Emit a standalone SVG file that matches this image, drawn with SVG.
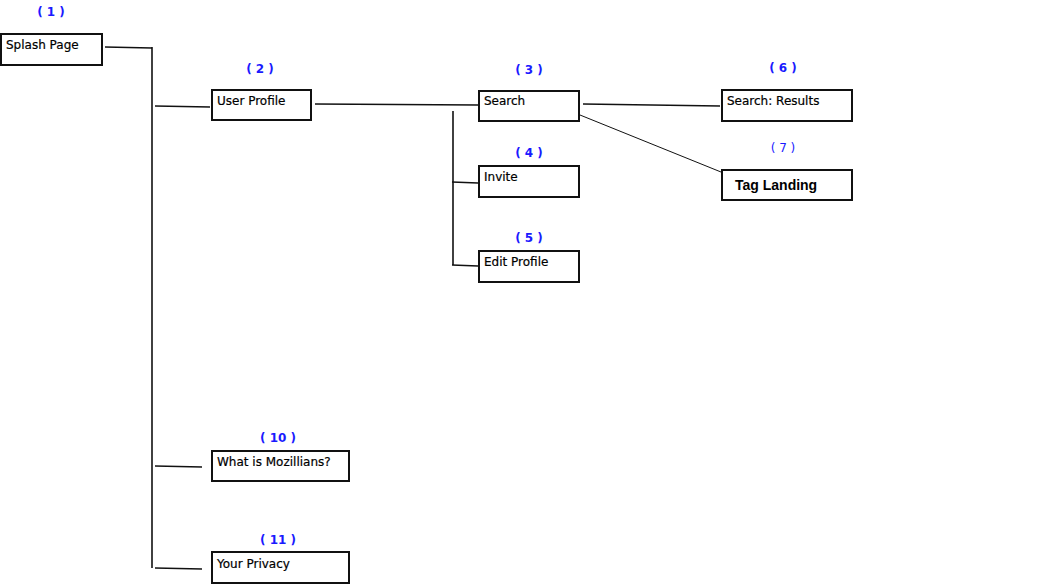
<svg xmlns="http://www.w3.org/2000/svg" width="1037" height="586" viewBox="0 0 1037 586">
<style>
.box{fill:#fff;stroke:#111;stroke-width:2}
.t{font-family:"DejaVu Sans","Liberation Sans",sans-serif;font-size:12px;fill:#000;stroke:#000;stroke-width:0.2}
.tb{font-family:"Liberation Sans","DejaVu Sans",sans-serif;font-size:14px;font-weight:bold;fill:#000}
.n{font-family:"DejaVu Sans","Liberation Sans",sans-serif;font-size:12px;font-weight:bold;fill:#1a1aff;text-anchor:middle}
.n2{font-family:"DejaVu Sans","Liberation Sans",sans-serif;font-size:12px;fill:#1a1aff;text-anchor:middle}
.c{stroke:#111;stroke-width:1.6;fill:none}
.c1{stroke:#111;stroke-width:1;fill:none}
</style>
<rect width="1037" height="586" fill="#fff"/>
<g id="connectors">
<path class="c" d="M105 47 L152 48"/>
<path class="c" d="M152 47 L152 568"/>
<path class="c" d="M155 106 L210 107"/>
<path class="c" d="M315 104 L478 105"/>
<path class="c" d="M453 111 L453 265"/>
<path class="c" d="M452 182 L478 183"/>
<path class="c" d="M452 265 L478 266"/>
<path class="c" d="M583 104 L720 106"/>
<path class="c1" d="M580 115 L721 172"/>
<path class="c" d="M155 466 L202 467"/>
<path class="c" d="M155 568 L202 569"/>
</g>
<g id="n1">
<text class="n" x="51" y="16">( 1 )</text>
<rect class="box" x="1" y="34" width="101" height="31"/>
<text class="t" x="6" y="49">Splash Page</text>
</g>
<g id="n2">
<text class="n" x="260" y="73">( 2 )</text>
<rect class="box" x="212" y="90" width="99" height="30"/>
<text class="t" x="217" y="105">User Profile</text>
</g>
<g id="n3">
<text class="n" x="529" y="74">( 3 )</text>
<rect class="box" x="479" y="91" width="100" height="30"/>
<text class="t" x="484" y="105">Search</text>
</g>
<g id="n4">
<text class="n" x="529" y="157">( 4 )</text>
<rect class="box" x="479" y="166" width="100" height="31"/>
<text class="t" x="484" y="181">Invite</text>
</g>
<g id="n5">
<text class="n" x="529" y="242">( 5 )</text>
<rect class="box" x="479" y="251" width="100" height="31"/>
<text class="t" x="484" y="266">Edit Profile</text>
</g>
<g id="n6">
<text class="n" x="783" y="72">( 6 )</text>
<rect class="box" x="722" y="90" width="130" height="31"/>
<text class="t" x="727" y="105">Search: Results</text>
</g>
<g id="n7">
<text class="n2" x="783" y="152">( 7 )</text>
<rect class="box" x="722" y="170" width="130" height="30"/>
<text class="tb" x="735" y="190">Tag Landing</text>
</g>
<g id="n10">
<text class="n" x="278" y="442">( 10 )</text>
<rect class="box" x="212" y="451" width="137" height="30"/>
<text class="t" x="217" y="466">What is Mozillians?</text>
</g>
<g id="n11">
<text class="n" x="278" y="544">( 11 )</text>
<rect class="box" x="212" y="552" width="137" height="31"/>
<text class="t" x="217" y="568">Your Privacy</text>
</g>
</svg>
